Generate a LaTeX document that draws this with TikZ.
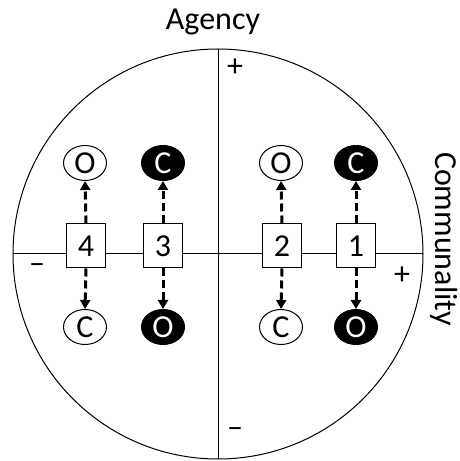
\documentclass[tikz,border=0pt]{standalone}
\usepackage{fontspec}
\setmainfont{Carlito}
\usetikzlibrary{arrows.meta,shapes.geometric}
\begin{document}
\begin{tikzpicture}[x=1pt,y=1pt,
  every node/.style={font=\fontsize{32}{38}\selectfont},
  numbox/.style={draw,line width=1pt,fill=white,minimum width=39pt,minimum height=44pt,inner sep=0pt},
  whiteell/.style={draw,ellipse,line width=1pt,fill=white,minimum width=43pt,minimum height=35pt,inner sep=0pt},
  blackell/.style={draw,ellipse,line width=1pt,fill=black,text=white,minimum width=43pt,minimum height=35pt,inner sep=0pt},
  darr/.style={dash pattern=on 8pt off 4pt,line width=3pt,-{Triangle[length=9pt,width=10pt]}},
  sign/.style={inner sep=0pt}]
\useasboundingbox (0,0) rectangle (459,461);
\draw[line width=1pt] (218,207) circle (205);
\coordinate (top) at (218,412);
\coordinate (bot) at (218,2);
\coordinate (lft) at (13,207);
\coordinate (rgt) at (423,207);
\draw[line width=1pt] (top) -- (bot);
\draw[line width=1pt] (lft) -- (rgt);
\node[numbox] (b4) at (86,215) {4};
\node[numbox] (b3) at (163,215) {3};
\node[numbox] (b2) at (282,215) {2};
\node[numbox] (b1) at (356,215) {1};
\node[whiteell] (u4) at (85,298) {O};
\node[blackell] (u3) at (163,298) {C};
\node[whiteell] (u2) at (281,298) {O};
\node[blackell] (u1) at (356,298) {C};
\node[whiteell] (d4) at (85,134) {C};
\node[blackell] (d3) at (163,134) {O};
\node[whiteell] (d2) at (281,134) {C};
\node[blackell] (d1) at (356,134) {O};
\foreach \b/\u/\d in {b4/u4/d4,b3/u3/d3,b2/u2/d2,b1/u1/d1}{
  \draw[darr] (\b.north) -- (\u.south);
  \draw[darr] (\b.south) -- (\d.north);
}
\node (agency) at (213,439) {Agency};
\node[rotate=-90,inner sep=0pt,anchor=north] (comm) at (458,222) {Communality};
\node[sign] (ptop) at (235,393) {+};
\node[sign] (prgt) at (402,185) {+};
\node[sign] (mlft) at (37,192) {–};
\node[sign] (mbot) at (235,28) {–};
\end{tikzpicture}
\end{document}
